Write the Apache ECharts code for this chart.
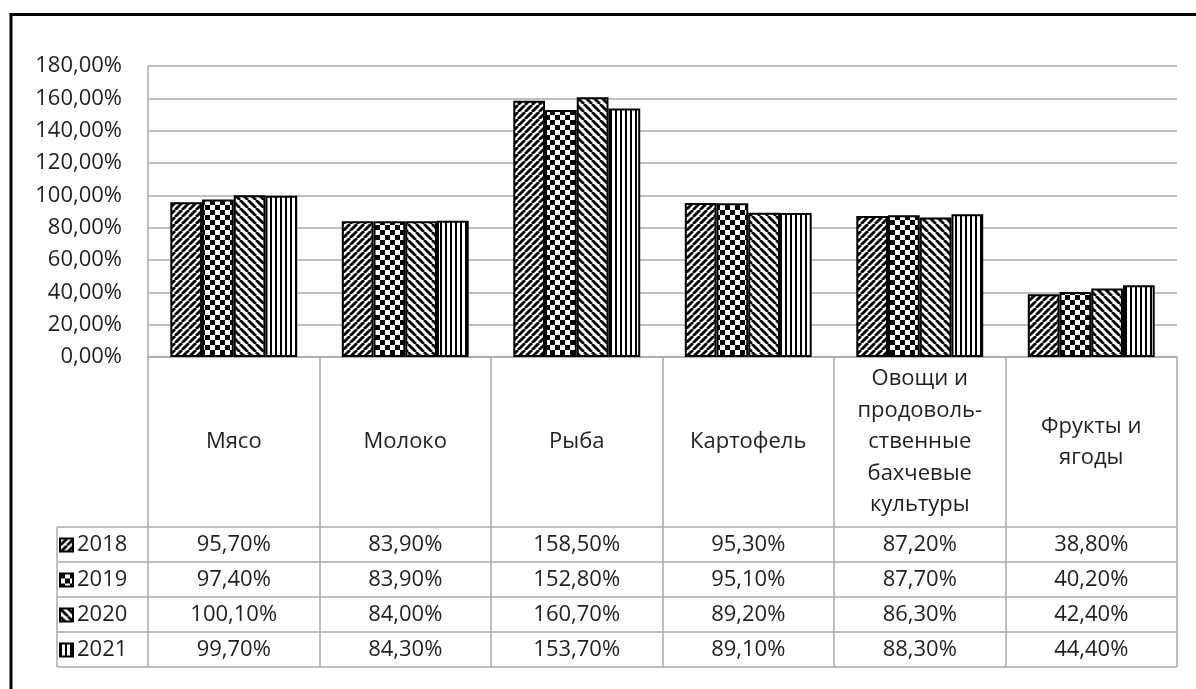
<!DOCTYPE html>
<html><head><meta charset="utf-8">
<script src="https://cdn.jsdelivr.net/npm/echarts@6/dist/echarts.min.js"></script>
<style>html,body{margin:0;padding:0;background:#fff}#c{width:1196px;height:689px}</style>
</head><body><div id="c"></div>
<script>
const categories = ['Мясо', 'Молоко', 'Рыба', 'Картофель', 'Овощи и\nпродоволь-\nственные\nбахчевые\nкультуры', 'Фрукты и\nягоды'];
const years = ['2018', '2019', '2020', '2021'];
const v2018 = [95.7, 83.9, 158.5, 95.3, 87.2, 38.8];
const v2019 = [97.4, 83.9, 152.8, 95.1, 87.7, 40.2];
const v2020 = [100.1, 84.0, 160.7, 89.2, 86.3, 42.4];
const v2021 = [99.7, 84.3, 153.7, 89.1, 88.3, 44.4];
const seriesValues = [v2018, v2019, v2020, v2021];

const FONT = 'Open Sans';
const FS = 22;
const TXT = '#1f1f1f';
const GRID_C = '#ababab';

function fmt(v) { return v.toFixed(2).replace('.', ',') + '%'; }

function pattern(kind) {
  const c = document.createElement('canvas');
  let s;
  if (kind === 'fwd' || kind === 'back') s = kind === 'fwd' ? 7 : 8;
  else if (kind === 'check') s = 10;
  else s = 5;
  c.width = s; c.height = s;
  const g = c.getContext('2d');
  g.fillStyle = '#fff'; g.fillRect(0, 0, s, s);
  g.fillStyle = '#000'; g.strokeStyle = '#000';
  if (kind === 'fwd') {
    g.lineWidth = 2.8;
    for (let k = -1; k <= 1; k++) { g.beginPath(); g.moveTo(k * s, s); g.lineTo(k * s + s, 0); g.stroke(); }
  } else if (kind === 'back') {
    g.lineWidth = 2.8;
    for (let k = -1; k <= 1; k++) { g.beginPath(); g.moveTo(k * s, 0); g.lineTo(k * s + s, s); g.stroke(); }
  } else if (kind === 'check') {
    g.fillRect(0, 0, 5, 5); g.fillRect(5, 5, 5, 5);
  } else {
    g.fillRect(0, 0, 2, s);
  }
  return { image: c, repeat: 'repeat' };
}
const patterns = [pattern('fwd'), pattern('check'), pattern('back'), pattern('vert')];

const axisTop = 357;           // pixel y of the category axis
const rowTop = 527, rowH = 35; // data table rows
const tableLeft = 57, plotRight = 1177;

const chart = echarts.init(document.getElementById('c'));

const rowAxes = seriesValues.map((vals, r) => ({
  type: 'category', data: categories, position: 'bottom', gridIndex: 0,
  axisLine: { show: false }, axisTick: { show: false }, splitLine: { show: false },
  axisLabel: {
    interval: 0, margin: rowTop + rowH * r + rowH / 2 - axisTop, verticalAlign: 'middle',
    fontFamily: FONT, fontSize: FS, color: TXT,
    formatter: (v, i) => fmt(vals[i])
  }
}));

const graphics = [];
for (let i = 0; i <= 4; i++) {
  const y = rowTop + i * rowH;
  graphics.push({ type: 'line', shape: { x1: tableLeft, y1: y, x2: plotRight, y2: y }, style: { stroke: GRID_C, lineWidth: 1.5 } });
}
graphics.push({ type: 'line', shape: { x1: tableLeft, y1: rowTop, x2: tableLeft, y2: rowTop + 4 * rowH }, style: { stroke: GRID_C, lineWidth: 1.5 } });
graphics.push({ type: 'rect', shape: { x: 11, y: 14.5, width: 1400, height: 900 }, style: { fill: null, stroke: '#000', lineWidth: 3 } });

chart.setOption({
  animation: false,
  backgroundColor: '#fff',
  grid: { left: 148, right: 1196 - plotRight, top: 66, bottom: 689 - axisTop, containLabel: false },
  legend: {
    data: years, orient: 'vertical', left: 59, top: rowTop + 3, itemGap: 5, padding: 0,
    itemWidth: 13, itemHeight: 13, icon: 'rect',
    textStyle: { fontFamily: FONT, fontSize: FS, color: TXT, lineHeight: 30, height: 30, padding: [0, 0, 0, -1] }
  },
  xAxis: [{
    type: 'category', data: categories, gridIndex: 0,
    axisLine: { show: true, lineStyle: { color: GRID_C, width: 1.5 } },
    axisTick: { show: true, length: rowTop + 4 * rowH - axisTop, interval: 0, lineStyle: { color: GRID_C, width: 1.5 } },
    axisLabel: { interval: 0, margin: (rowTop - axisTop) / 2, verticalAlign: 'middle', lineHeight: 31.5,
      fontFamily: FONT, fontSize: FS, color: TXT, align: 'center' }
  }].concat(rowAxes),
  yAxis: {
    type: 'value', min: 0, max: 180, interval: 20,
    axisLine: { show: true, lineStyle: { color: GRID_C, width: 1.5 } },
    axisTick: { show: false },
    splitLine: { lineStyle: { color: GRID_C, width: 1.5 } },
    axisLabel: { margin: 26, fontFamily: FONT, fontSize: FS, color: TXT, formatter: v => fmt(v) }
  },
  series: years.map((y, i) => ({
    name: y, type: 'bar', xAxisIndex: 0, yAxisIndex: 0, data: seriesValues[i],
    barGap: '0%', barCategoryGap: '26%',
    itemStyle: { color: patterns[i], borderColor: '#000', borderWidth: 2 }
  })),
  graphic: graphics
});
</script></body></html>
